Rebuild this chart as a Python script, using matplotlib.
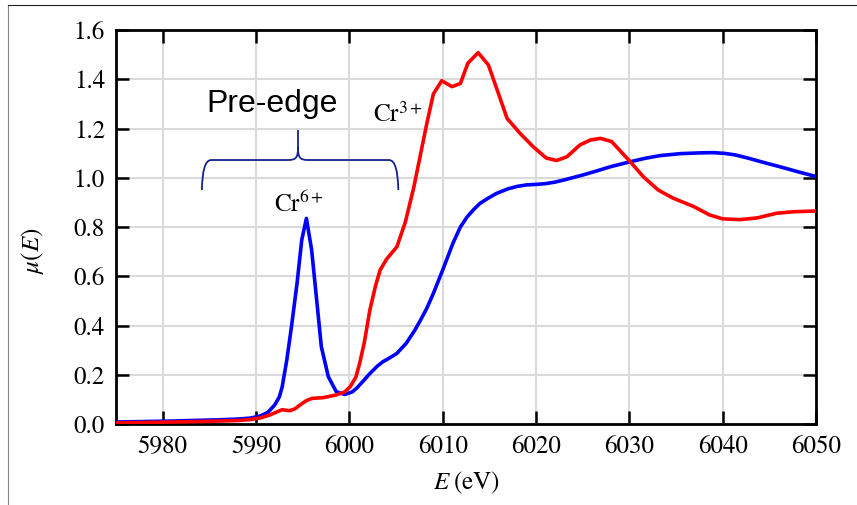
import matplotlib
matplotlib.use("Agg")
import matplotlib.pyplot as plt
from matplotlib.path import Path
from matplotlib.patches import PathPatch
from matplotlib.lines import Line2D

# ---- data ----
cr6_E = [5975, 5978, 5981, 5984, 5986, 5988, 5989.4, 5990.5, 5991.3, 5992, 5992.5,
         5992.8, 5993.3, 5993.8, 5994.4, 5994.9, 5995.4, 5995.96, 5996.5, 5997,
         5997.75, 5998.6, 5999.5, 6000.3, 6000.8, 6001.5, 6002.2, 6003, 6003.6,
         6004.3, 6005.1, 6006.1, 6007, 6007.6, 6008.3, 6009, 6010, 6011.1, 6011.9,
         6012.6, 6013.3, 6014, 6015, 6015.8, 6017, 6018, 6019, 6020, 6021, 6022,
         6023, 6024, 6025, 6026.1, 6028, 6030.1, 6031.7, 6033.3, 6035.5,
         6037.6, 6039, 6040.2, 6041.3, 6042.6, 6044.3, 6046.1, 6048, 6050]
cr6_mu = [0.008, 0.010, 0.012, 0.015, 0.017, 0.020, 0.024, 0.033, 0.048, 0.077, 0.11,
          0.15, 0.26, 0.395, 0.572, 0.747, 0.835, 0.707, 0.504, 0.314,
          0.192, 0.131, 0.12, 0.13, 0.146, 0.175, 0.205, 0.235, 0.253,
          0.268, 0.287, 0.328, 0.38, 0.42, 0.47, 0.53, 0.625, 0.734, 0.80,
          0.84, 0.87, 0.896, 0.92, 0.937, 0.955, 0.965, 0.971, 0.973, 0.976, 0.982,
          0.991, 1.001, 1.011, 1.023, 1.045, 1.065, 1.079, 1.09, 1.098,
          1.101, 1.102, 1.099, 1.093, 1.081, 1.063, 1.045, 1.025, 1.005]

cr3_E = [5975, 5978, 5981, 5984, 5986, 5988, 5989.4, 5990.5, 5991.5, 5992.3, 5992.8,
         5993.6, 5994.2, 5994.7, 5995.4, 5996, 5997.2, 5998.6, 5999.5, 6000.1,
         6000.7, 6001.1, 6001.6, 6002.2, 6002.8, 6003.3, 6004, 6005.1, 6006,
         6006.9, 6007.6, 6008.3, 6009, 6009.9, 6011, 6011.9, 6012.7, 6013.8,
         6014.9, 6015.9, 6016.9, 6018.3, 6019.7, 6021.1, 6022.2, 6023.3, 6024.7,
         6025.8, 6026.9, 6028.1, 6029, 6030.1, 6031.5, 6033.1, 6034.7, 6036.9,
         6038.6, 6040, 6041.9, 6043.7, 6045.8, 6047.6, 6050]
cr3_mu = [0.005, 0.006, 0.008, 0.010, 0.012, 0.014, 0.018, 0.025, 0.037, 0.05, 0.058,
          0.054, 0.062, 0.077, 0.095, 0.104, 0.107, 0.118, 0.13, 0.152,
          0.19, 0.246, 0.33, 0.463, 0.56, 0.625, 0.67, 0.72, 0.82,
          0.96, 1.09, 1.22, 1.34, 1.394, 1.37, 1.383, 1.465, 1.508,
          1.458, 1.35, 1.241, 1.18, 1.126, 1.08, 1.07, 1.085, 1.133,
          1.153, 1.16, 1.147, 1.11, 1.065, 1.004, 0.95, 0.917, 0.883,
          0.849, 0.833, 0.83, 0.837, 0.856, 0.862, 0.865]

x_ticks = [5980, 5990, 6000, 6010, 6020, 6030, 6040, 6050]
y_ticks = [0.0, 0.2, 0.4, 0.6, 0.8, 1.0, 1.2, 1.4, 1.6]
y_ticklabels = ["0.0", "0.2", "0.4", "0.6", "0.8", "1.0", "1.2", "1.4", "1.6"]

# brace: left end, center, right end, base level, horizontal level, tip
brace_x = [5984.2, 5994.5, 6005.25]
brace_y = [0.95, 1.072, 1.194]

plt.rcParams['font.family'] = ['STIXGeneral', 'Liberation Serif', 'DejaVu Serif']
plt.rcParams['mathtext.fontset'] = 'stix'

fig = plt.figure(figsize=(8.57, 5.05), dpi=100)
ax = fig.add_axes([116/857, 81/505, 700/857, 394/505])

ax.plot(cr6_E, cr6_mu, color='#0000ff', lw=2.6, zorder=3, solid_joinstyle='round')
ax.plot(cr3_E, cr3_mu, color='#ff0000', lw=2.6, zorder=3, solid_joinstyle='round')

ax.set_xlim(5975, 6050)
ax.set_ylim(0, 1.6)
ax.set_xticks(x_ticks)
ax.set_xticklabels([str(t) for t in x_ticks])
ax.set_yticks(y_ticks)
ax.set_yticklabels(y_ticklabels)
ax.grid(True, color='#dadada', lw=1.5, zorder=0)
ax.set_axisbelow(True)
ax.tick_params(direction='in', length=9.5, width=1.8, top=True, right=True,
               labelsize=18, pad=8, color='black')
for s in ax.spines.values():
    s.set_linewidth(2.0)

ax.set_xlabel(r'$E\;(\mathrm{eV})$', fontsize=18, labelpad=8)
ax.set_ylabel(r'$\mu(E)$', fontsize=18)
ax.yaxis.set_label_coords(-0.1, 0.44)

# brace
xl, xc, xr = brace_x
yb, yh, yt = brace_y
verts = [
    (xl, yb), (xl + 0.05, yh), (xl + 1.0, yh),
    (xc - 1.1, yh),
    (xc - 0.2, yh), (xc, yh + 0.01), (xc, yh + 0.05),
    (xc, yt),
    (xc, yh + 0.05),
    (xc, yh + 0.01), (xc + 0.2, yh), (xc + 1.1, yh),
    (xr - 1.0, yh),
    (xr - 0.05, yh), (xr, yb),
]
codes = [Path.MOVETO, Path.CURVE3, Path.CURVE3,
         Path.LINETO,
         Path.CURVE4, Path.CURVE4, Path.CURVE4,
         Path.LINETO,
         Path.MOVETO,
         Path.CURVE4, Path.CURVE4, Path.CURVE4,
         Path.LINETO,
         Path.CURVE3, Path.CURVE3]
ax.add_patch(PathPatch(Path(verts, codes), fill=False, edgecolor='#14248a', lw=1.3, zorder=4))

ax.text(5991.7, 1.30, 'Pre-edge', fontsize=23, ha='center', va='center',
        family=['Liberation Sans', 'DejaVu Sans'])
ax.text(6005.2, 1.255, r'$\mathrm{Cr}^{3+}$', fontsize=18, ha='center', va='center')
ax.text(5994.6, 0.89, r'$\mathrm{Cr}^{6+}$', fontsize=18, ha='center', va='center')

# figure frame (left and top edges)
fig.add_artist(Line2D([8/857, 8/857], [0, 1 - 5/505], transform=fig.transFigure,
                      color='#888888', lw=0.8))
fig.add_artist(Line2D([8/857, 1], [1 - 5/505, 1 - 5/505], transform=fig.transFigure,
                      color='#222222', lw=0.8))

fig.savefig('out.png', dpi=100)
